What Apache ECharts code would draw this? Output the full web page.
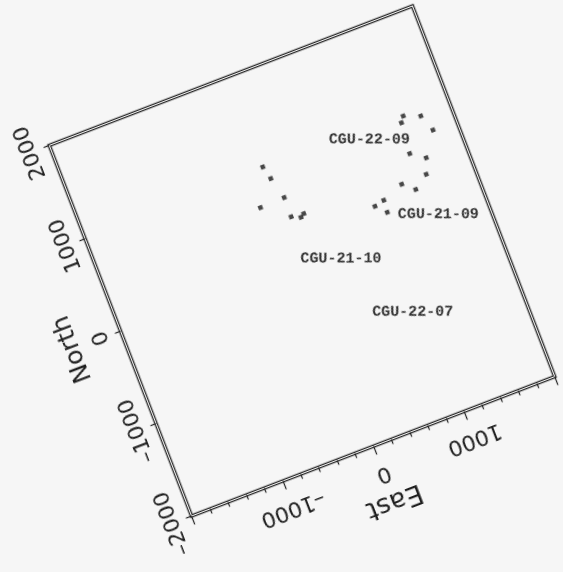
<!DOCTYPE html>
<html>
<head>
<meta charset="utf-8">
<script src="https://cdn.jsdelivr.net/npm/echarts@6/dist/echarts.min.js"></script>
<style>
html, body {
  margin: 0;
  padding: 0;
  width: 563px;
  height: 572px;
  overflow: hidden;
  background: #f6f6f6;
}
/* the scanned sheet sits tilted, so the whole chart is turned */
#chart {
  position: absolute;
  left: 1.5px;
  top: -39.3px;
  width: 600px;
  height: 600px;
  transform: rotate(-21deg);
  transform-origin: 50% 50%;
}
</style>
</head>
<body>
<div id="chart"></div>
<script>
// axis range (both axes, metres)
var axisMin = -2000;
var axisMax = 2000;
var axisStep = 1000;

// sample points
var pointEast = [-30, 4, 63, -202, 59, 151, 192,
  1506, 1675, 1464, 1740, 1430, 1573, 1512, 1240, 1356, 1009, 902, 998];
var pointNorth = [1026, 888, 661, 652, 455, 415, 439,
  998, 935, 941, 759, 621, 522, 367, 362, 262, 276, 251, 150];

// hole labels
var wellNames = ['CGU-22-09', 'CGU-21-09', 'CGU-21-10', 'CGU-22-07'];
var wellEast = [705, 1092, -6, 486];
var wellNorth = [1045, 93, 28, -733];

var points = [];
for (var i = 0; i < pointEast.length; i++) {
  points.push([pointEast[i], pointNorth[i]]);
}
var wells = [];
for (var i = 0; i < wellNames.length; i++) {
  wells.push([wellEast[i], wellNorth[i], wellNames[i]]);
}

function dash(v) {
  return String(v).replace('-', '\u2013');
}

var frame = { left: 105.5, top: 101.5, width: 389, height: 397 };
var ink = '#1f1f1f';
var labelFont = { fontFamily: 'DejaVu Sans', fontSize: 22, color: ink };

var myChart = echarts.init(document.getElementById('chart'));
var option = {
  animation: false,
  backgroundColor: 'transparent',
  grid: [
    Object.assign({ show: true, borderColor: '#262626', borderWidth: 3.6, backgroundColor: 'transparent' }, frame),
    Object.assign({ show: true, borderColor: '#f2f2f2', borderWidth: 1.1, backgroundColor: 'transparent' }, frame)
  ],
  xAxis: [
    {
      gridIndex: 0,
      type: 'value',
      min: axisMin,
      max: axisMax,
      interval: axisStep,
      name: 'East',
      nameLocation: 'middle',
      nameGap: 55,
      nameRotate: 180,
      nameTextStyle: { fontFamily: 'DejaVu Sans', fontSize: 27, color: ink, align: 'center', verticalAlign: 'middle' },
      axisLine: { show: false, onZero: false },
      splitLine: { show: false },
      axisTick: { show: true, length: 9, lineStyle: { color: '#222', width: 1.2 } },
      minorTick: { show: true, splitNumber: 5, length: 5, lineStyle: { color: '#222', width: 1.2 } },
      axisLabel: Object.assign({
        rotate: 180, margin: 29, align: 'center', verticalAlign: 'middle',
        showMinLabel: false, showMaxLabel: false, formatter: dash
      }, labelFont)
    },
    { gridIndex: 1, type: 'value', show: false, min: axisMin, max: axisMax }
  ],
  yAxis: [
    {
      gridIndex: 0,
      type: 'value',
      min: axisMin,
      max: axisMax,
      interval: axisStep,
      name: 'North',
      nameLocation: 'middle',
      nameGap: 47,
      nameRotate: 90,
      nameTextStyle: { fontFamily: 'DejaVu Sans', fontSize: 25, color: ink, align: 'center', verticalAlign: 'middle' },
      axisLine: { show: false, onZero: false },
      splitLine: { show: false },
      axisTick: { show: true, length: 6, lineStyle: { color: '#222', width: 1.2 } },
      axisLabel: Object.assign({
        rotate: 90, margin: 20, align: 'center', verticalAlign: 'middle', formatter: dash
      }, labelFont)
    },
    { gridIndex: 1, type: 'value', show: false, min: axisMin, max: axisMax }
  ],
  series: [
    {
      type: 'scatter',
      xAxisIndex: 0,
      yAxisIndex: 0,
      data: points,
      symbol: 'rect',
      symbolSize: 4.5,
      itemStyle: { color: '#1a1a1a' }
    },
    {
      type: 'scatter',
      xAxisIndex: 0,
      yAxisIndex: 0,
      data: wells,
      symbolSize: 0,
      label: {
        show: true,
        position: 'right',
        distance: 0,
        rotate: -21,
        align: 'left',
        verticalAlign: 'middle',
        formatter: function (p) { return p.value[2]; },
        fontFamily: 'Liberation Mono',
        fontWeight: 'bold',
        fontSize: 15,
        color: '#000'
      }
    }
  ]
};
myChart.setOption(option);
</script>
</body>
</html>
